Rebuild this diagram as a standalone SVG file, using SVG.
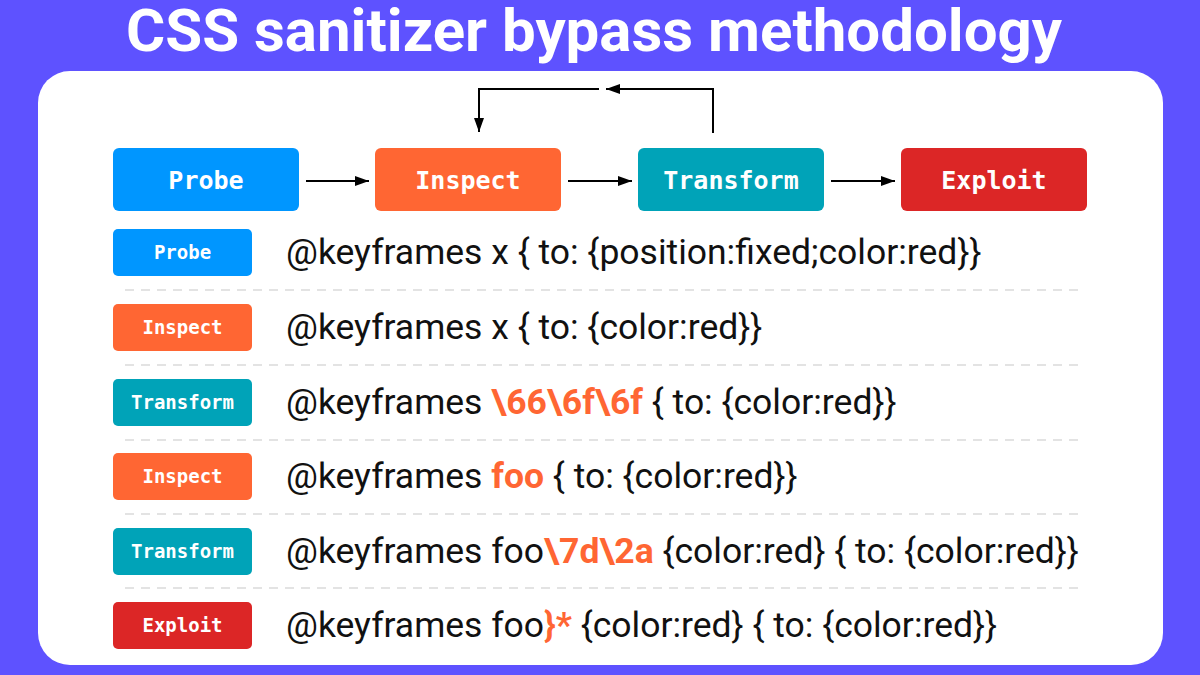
<svg xmlns="http://www.w3.org/2000/svg" width="1200" height="675" viewBox="0 0 1200 675">
<defs>
<marker id="ah" viewBox="0 0 14 10" refX="14" refY="5" markerWidth="7" markerHeight="5" orient="auto-start-reverse" markerUnits="strokeWidth">
<path d="M0,0 L14,5 L0,10 z" fill="#000"/>
</marker>
<style>
.title{font-family:Roboto,"Liberation Sans",sans-serif;font-weight:700;font-size:60px;fill:#fff;text-anchor:middle}
.nl{font-family:"DejaVu Sans Mono","Liberation Mono",monospace;font-weight:700;font-size:25px;fill:#fff;text-anchor:middle}
.bl{font-family:"DejaVu Sans Mono","Liberation Mono",monospace;font-weight:700;font-size:19px;fill:#fff;text-anchor:middle}
.code{font-family:Roboto,"Liberation Sans",sans-serif;font-size:35.5px;fill:#111}
.hl{font-weight:700;fill:#ff6633}
.conn{fill:none;stroke:#000;stroke-width:2;marker-end:url(#ah)}
.sep{stroke:#e3e3e3;stroke-width:2;stroke-dasharray:9 7}
.probe{fill:#0096ff}
.inspect{fill:#ff6633}
.transform{fill:#00a3b8}
.exploit{fill:#dc2626}
</style>
</defs>
<rect x="0" y="0" width="1200" height="675" fill="#5e52ff"/>
<text class="title" x="594" y="51">CSS sanitizer bypass methodology</text>
<rect x="38" y="71" width="1125" height="594" rx="32" fill="#fff"/>

<g id="node-probe"><rect class="probe" x="113" y="148" width="186" height="63" rx="6"/><text class="nl" x="206" y="189">Probe</text></g>
<g id="node-inspect"><rect class="inspect" x="375" y="148" width="186" height="63" rx="6"/><text class="nl" x="468" y="189">Inspect</text></g>
<g id="node-transform"><rect class="transform" x="638" y="148" width="186" height="63" rx="6"/><text class="nl" x="731" y="189">Transform</text></g>
<g id="node-exploit"><rect class="exploit" x="901" y="148" width="186" height="63" rx="6"/><text class="nl" x="994" y="189">Exploit</text></g>

<g id="connectors">
<path class="conn" d="M306,181 H369"/>
<path class="conn" d="M568,181 H632"/>
<path class="conn" d="M831,181 H895"/>
<path class="conn" d="M713,133 V89 H606"/>
<path class="conn" d="M599,89 H479 V132"/>
</g>

<g id="separators">
<line class="sep" x1="125" y1="290" x2="1083" y2="290"/>
<line class="sep" x1="125" y1="365" x2="1083" y2="365"/>
<line class="sep" x1="125" y1="440" x2="1083" y2="440"/>
<line class="sep" x1="125" y1="514" x2="1083" y2="514"/>
<line class="sep" x1="125" y1="588" x2="1083" y2="588"/>
</g>

<g id="row1"><rect class="probe" x="113" y="229" width="139" height="47" rx="5"/><text class="bl" x="182.5" y="259">Probe</text>
<text class="code" x="286" y="264">@keyframes x { to: {position:fixed;color:red}}</text></g>
<g id="row2"><rect class="inspect" x="113" y="304" width="139" height="47" rx="5"/><text class="bl" x="182.5" y="334">Inspect</text>
<text class="code" x="286" y="339">@keyframes x { to: {color:red}}</text></g>
<g id="row3"><rect class="transform" x="113" y="379" width="139" height="47" rx="5"/><text class="bl" x="182.5" y="409">Transform</text>
<text class="code" x="286" y="414">@keyframes <tspan class="hl">\66\6f\6f</tspan> { to: {color:red}}</text></g>
<g id="row4"><rect class="inspect" x="113" y="453" width="139" height="47" rx="5"/><text class="bl" x="182.5" y="483">Inspect</text>
<text class="code" x="286" y="488">@keyframes <tspan class="hl">foo</tspan> { to: {color:red}}</text></g>
<g id="row5"><rect class="transform" x="113" y="528" width="139" height="47" rx="5"/><text class="bl" x="182.5" y="558">Transform</text>
<text class="code" x="286" y="563">@keyframes foo<tspan class="hl">\7d\2a</tspan> {color:red} { to: {color:red}}</text></g>
<g id="row6"><rect class="exploit" x="113" y="602" width="139" height="47" rx="5"/><text class="bl" x="182.5" y="632">Exploit</text>
<text class="code" x="286" y="637">@keyframes foo<tspan class="hl">}*</tspan> {color:red} { to: {color:red}}</text></g>
</svg>
